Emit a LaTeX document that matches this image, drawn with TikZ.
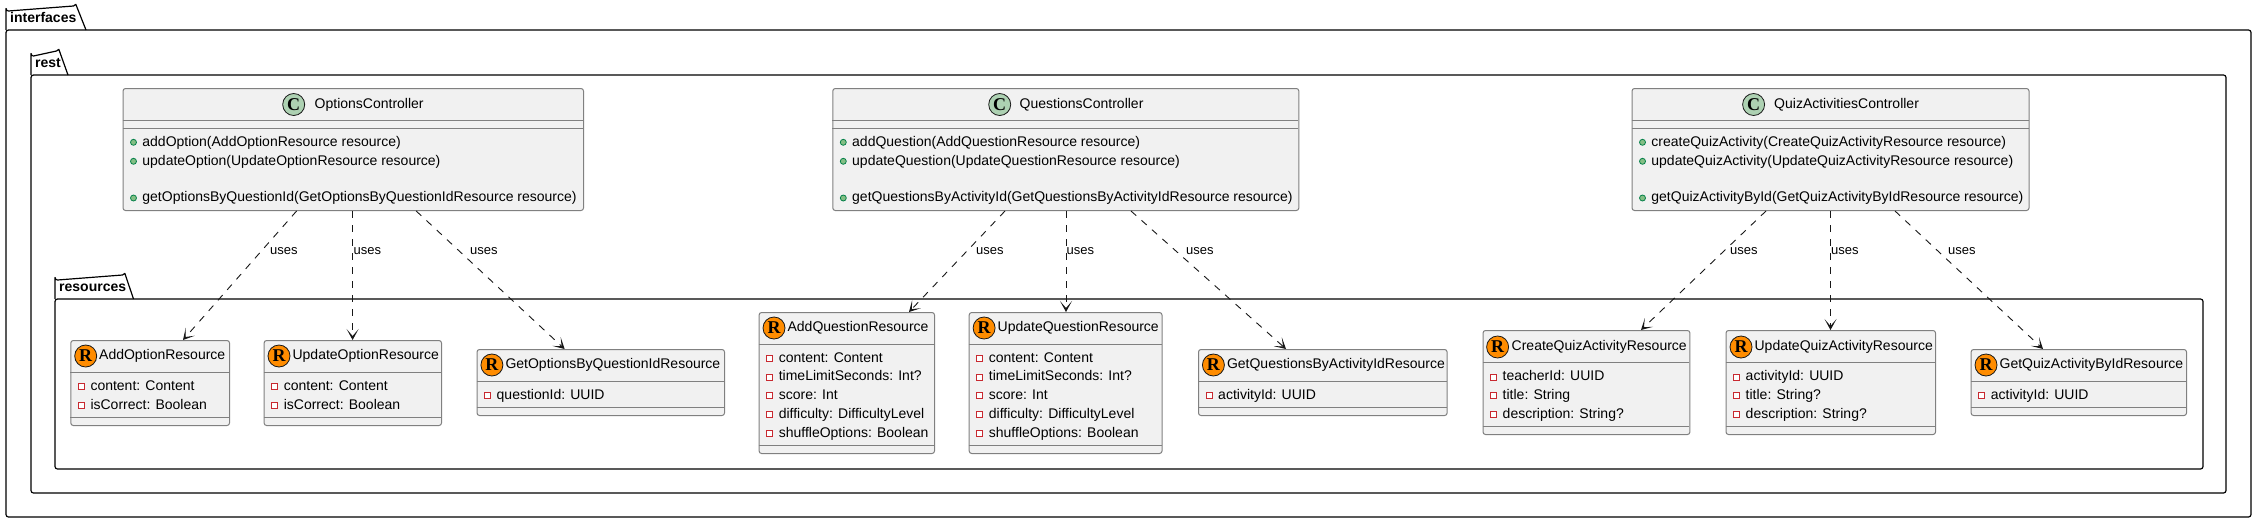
\documentclass[tikz,border=0pt]{standalone}
\usepackage{fontspec}
\setmainfont{Liberation Sans}
\newfontfamily\iconfont{Liberation Serif}
\usetikzlibrary{arrows.meta,calc}
\definecolor{boxfill}{HTML}{F1F1F1}
\definecolor{boxline}{HTML}{808080}
\definecolor{inkline}{HTML}{181818}
\definecolor{cicon}{HTML}{ADD1B2}
\definecolor{ricon}{HTML}{FF8C00}
\definecolor{pubfill}{HTML}{84BE84}
\definecolor{publine}{HTML}{038048}
\definecolor{privline}{HTML}{C82930}
\newcommand{\fsz}[1]{\fontsize{#1}{#1}\selectfont}
\tikzset{
  x=1pt,y=-1pt,
  pkgline/.style={draw=black,line width=1.2pt,line join=round},
  boxnode/.style={draw=boxline,fill=boxfill,line width=1pt,rounded corners=2.5pt,inner sep=0pt,anchor=north west},
  rule/.style={draw=boxline,line width=1pt},
  lbl/.style={inner sep=0pt,anchor=west,font=\fsz{14},text=black,text height=10.5pt,text depth=3pt},
  pkglbl/.style={lbl,font=\fsz{14}\bfseries},
  iconc/.style={circle,draw=inkline,line width=0.8pt,fill=cicon,minimum size=22pt,inner sep=0pt,font=\fsz{18}\iconfont\bfseries},
  iconr/.style={iconc,fill=ricon},
  pubmark/.style={circle,draw=publine,fill=pubfill,line width=0.8pt,minimum size=6pt,inner sep=0pt},
  privmark/.style={rectangle,draw=privline,fill=white,line width=0.9pt,minimum size=6pt,inner sep=0pt},
  uses/.style={draw=inkline,line width=0.9pt,dash pattern=on 7pt off 7pt,-{Stealth[length=11pt,width=12pt,inset=7pt]}},
  useslbl/.style={inner sep=0pt,anchor=west,font=\fsz{13},text=black},
}
\newcommand{\pkg}[8]{%
  \draw[pkgline] (#2,#4+24) -- (#2,#4+2.5) arc[start angle=180,end angle=90,radius=2.5] -- (#5-2.5,#4) arc[start angle=90,end angle=20,radius=2.5] -- (#6,#4+24);
  \draw[pkgline,rounded corners=2.5pt,fill=none] (#2,#4+24) rectangle (#3,#7);
  \node[pkglbl] (#1) at (#2+4,#4+12.5) {#8};
}
\newcommand{\cbox}[5]{\node[boxnode,minimum width=#3pt-#2pt,minimum height=#5pt-#4pt] (#1) at (#2,#4) {};}
\newcommand{\crules}[4]{\draw[rule] (#1,#3) -- (#2,#3) (#1,#4) -- (#2,#4);}
\newcommand{\priv}[4]{\node[privmark] (#1m) at (#2+11,#3) {};\node[lbl] (#1) at (#2+20,#3) {#4};}
\newcommand{\pub}[4]{\node[pubmark] (#1m) at (#2+11,#3) {};\node[lbl] (#1) at (#2+19.7,#3) {#4};}
\begin{document}
\begin{tikzpicture}
\useasboundingbox (0,0) rectangle (2256,523);
\fill[white] (0,0) rectangle (2256,523);
\pkg{pi}{6}{2251}{6}{76}{86}{517}{interfaces}
\pkg{pr}{31}{2226}{51}{59}{68}{493}{rest}
\pkg{ps}{55}{2203}{275}{125}{133.5}{469}{resources}

% Controllers
\cbox{opt}{122.5}{583}{88}{210}\crules{122.5}{583}{120}{128}
\node[iconc] (opti) at (293.7,104.5) {C};
\node[lbl] (optt) at (314.5,104.5) {OptionsController};
\pub{o1}{122.5}{142.3}{addOption(AddOptionResource resource)}
\pub{o2}{122.5}{161.3}{updateOption(UpdateOptionResource resource)}
\pub{o3}{122.5}{198}{getOptionsByQuestionId(GetOptionsByQuestionIdResource resource)}

\cbox{que}{832.3}{1298.3}{88}{210}\crules{832.3}{1298.3}{120}{128}
\node[iconc] (quei) at (999.7,104.5) {C};
\node[lbl] (quet) at (1019.5,104.5) {QuestionsController};
\pub{q1}{832.3}{142.3}{addQuestion(AddQuestionResource resource)}
\pub{q2}{832.3}{161.3}{updateQuestion(UpdateQuestionResource resource)}
\pub{q3}{832.3}{198}{getQuestionsByActivityId(GetQuestionsByActivityIdResource resource)}

\cbox{qui}{1631.5}{2028.5}{88}{210}\crules{1631.5}{2028.5}{120}{128}
\node[iconc] (quii) at (1753.6,104.5) {C};
\node[lbl] (quit) at (1774,104.5) {QuizActivitiesController};
\pub{z1}{1631.5}{142.3}{createQuizActivity(CreateQuizActivityResource resource)}
\pub{z2}{1631.5}{161.3}{updateQuizActivity(UpdateQuizActivityResource resource)}
\pub{z3}{1631.5}{198}{getQuizActivityById(GetQuizActivityByIdResource resource)}

% Option resources
\cbox{aor}{70.3}{229}{340}{425}\crules{70.3}{229}{372}{417}
\node[iconr] (aori) at (85.7,356) {R};
\node[lbl] (aort) at (99,356) {AddOptionResource};
\priv{a1}{70.3}{386.3}{content: Content}
\priv{a2}{70.3}{405.3}{isCorrect: Boolean}

\cbox{uor}{263.6}{441}{340}{425}\crules{263.6}{441}{372}{417}
\node[iconr] (uori) at (279,356) {R};
\node[lbl] (uort) at (292.4,356) {UpdateOptionResource};
\priv{b1}{263.6}{386.3}{content: Content}
\priv{b2}{263.6}{405.3}{isCorrect: Boolean}

\cbox{gor}{476.5}{724}{349}{415}\crules{476.5}{724}{381}{407}
\node[iconr] (gori) at (491.9,365) {R};
\node[lbl] (gort) at (505.3,365) {GetOptionsByQuestionIdResource};
\priv{c1}{476.5}{395.3}{questionId: UUID}

% Question resources
\cbox{aqr}{758.6}{934}{312}{453}\crules{758.6}{934}{344}{445}
\node[iconr] (aqri) at (774,328) {R};
\node[lbl] (aqrt) at (787.4,328) {AddQuestionResource};
\priv{d1}{758.6}{358.3}{content: Content}
\priv{d2}{758.6}{377.2}{timeLimitSeconds: Int?}
\priv{d3}{758.6}{395.5}{score: Int}
\priv{d4}{758.6}{414.3}{difficulty: DifficultyLevel}
\priv{d5}{758.6}{433.3}{shuffleOptions: Boolean}

\cbox{uqr}{968.7}{1161.5}{312}{453}\crules{968.7}{1161.5}{344}{445}
\node[iconr] (uqri) at (984.1,328) {R};
\node[lbl] (uqrt) at (997.5,328) {UpdateQuestionResource};
\priv{e1}{968.7}{358.3}{content: Content}
\priv{e2}{968.7}{377.2}{timeLimitSeconds: Int?}
\priv{e3}{968.7}{395.5}{score: Int}
\priv{e4}{968.7}{414.3}{difficulty: DifficultyLevel}
\priv{e5}{968.7}{433.3}{shuffleOptions: Boolean}

\cbox{gqr}{1198}{1446.6}{349}{415}\crules{1198}{1446.6}{381}{407}
\node[iconr] (gqri) at (1213.4,365) {R};
\node[lbl] (gqrt) at (1226.8,365) {GetQuestionsByActivityIdResource};
\priv{f1}{1198}{395.3}{activityId: UUID}

% Quiz resources
\cbox{cqz}{1482.5}{1689.4}{330}{434}\crules{1482.5}{1689.4}{362}{426}
\node[iconr] (cqzi) at (1497.6,347) {R};
\node[lbl] (cqzt) at (1511.5,347) {CreateQuizActivityResource};
\priv{g1}{1482.5}{377}{teacherId: UUID}
\priv{g2}{1482.5}{395.5}{title: String}
\priv{g3}{1482.5}{414.3}{description: String?}

\cbox{uqz}{1725.5}{1935}{330}{434}\crules{1725.5}{1935}{362}{426}
\node[iconr] (uqzi) at (1741,347) {R};
\node[lbl] (uqzt) at (1754.4,347) {UpdateQuizActivityResource};
\priv{h1}{1725.5}{377}{activityId: UUID}
\priv{h2}{1725.5}{395.5}{title: String?}
\priv{h3}{1725.5}{414.3}{description: String?}

\cbox{gqz}{1970.6}{2186}{349}{415}\crules{1970.6}{2186}{381}{407}
\node[iconr] (gqzi) at (1986,365) {R};
\node[lbl] (gqzt) at (1999.4,365) {GetQuizActivityByIdResource};
\priv{i1}{1970.6}{395.3}{activityId: UUID}

% Connectors
\draw[uses] ($(opt.south west)+(174.1,0)$) -- ($(aor.north west)+(112.7,0)$);
\draw[uses] ($(opt.south west)+(230.1,0)$) -- ($(uor.north west)+(89,0)$);
\draw[uses] ($(opt.south west)+(293.7,0)$) -- ($(gor.north west)+(88.1,0)$);
\draw[uses] ($(que.south west)+(172.7,0)$) -- ($(aqr.north west)+(150.4,0)$);
\draw[uses] ($(que.south west)+(233.7,0)$) -- ($(uqr.north west)+(97.3,0)$);
\draw[uses] ($(que.south west)+(298.7,0)$) -- ($(gqr.north west)+(88,0)$);
\draw[uses] ($(qui.south west)+(134.5,0)$) -- ($(cqz.north west)+(158.5,0)$);
\draw[uses] ($(qui.south west)+(199,0)$) -- ($(uqz.north west)+(105,0)$);
\draw[uses] ($(qui.south west)+(263.5,0)$) -- ($(gqz.north west)+(72.4,0)$);
\node[useslbl] (u1) at (270,251) {uses};
\node[useslbl] (u2) at (353.5,251) {uses};
\node[useslbl] (u3) at (470,251) {uses};
\node[useslbl] (u4) at (976,251) {uses};
\node[useslbl] (u5) at (1066.5,251) {uses};
\node[useslbl] (u6) at (1186,251) {uses};
\node[useslbl] (u7) at (1730,251) {uses};
\node[useslbl] (u8) at (1831,251) {uses};
\node[useslbl] (u9) at (1948,251) {uses};
\end{tikzpicture}
\end{document}
